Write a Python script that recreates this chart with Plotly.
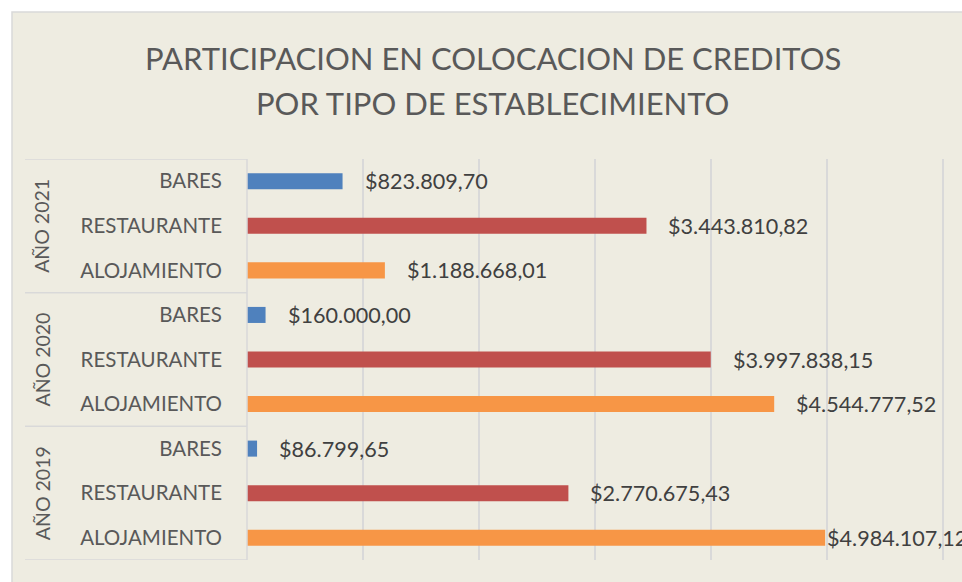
import plotly.graph_objects as go

# ---- data ----
anios = ["AÑO 2019", "AÑO 2020", "AÑO 2021"]
tipos = ["ALOJAMIENTO", "RESTAURANTE", "BARES"]
valores_2019 = [4984107.12, 2770675.43, 86799.65]
valores_2020 = [4544777.52, 3997838.15, 160000.00]
valores_2021 = [1188668.01, 3443810.82, 823809.70]
colores = ["#F79646", "#C0504D", "#4F81BD"]
titulo_1 = "PARTICIPACION EN COLOCACION DE CREDITOS"
titulo_2 = "POR TIPO DE ESTABLECIMIENTO"

valores = [valores_2019, valores_2020, valores_2021]

W, H = 962, 582
L, R, T = 247, 0, 159
B = H - 560
pw, ph = W - L - R, H - T - B
def px_x(p):
    return (p - L) / pw
def px_y(p):
    return (H - B - p) / ph

FONT = "Lato"
BG = "#EEECE1"
GRID = "#D9D9D9"

def fmt(v):
    s = f"{v:,.2f}"
    return "$" + s.replace(",", "X").replace(".", ",").replace("X", ".")

XMAX = pw / 116.0 * 1e6

fig = go.Figure()
annotations = []
tickvals, ticktext = [], []
for ti, tipo in enumerate(tipos):
    ys, xs = [], []
    for gi, anio in enumerate(anios):
        ys.append(gi * 3 + ti)
        xs.append(valores[gi][ti])
    fig.add_trace(go.Bar(
        x=xs, y=ys, orientation="h", width=0.36,
        marker=dict(color=colores[ti], line=dict(width=0)),
        showlegend=False, hoverinfo="skip"))
    for x, y in zip(xs, ys):
        shift = 20 if x < 4.8e6 else 0
        annotations.append(dict(
            x=x, y=y, xref="x", yref="y", text=fmt(x), showarrow=False,
            xanchor="left", yanchor="middle", xshift=shift,
            font=dict(family=FONT, size=21.6, color="#404040")))

for gi, anio in enumerate(anios):
    for ti, tipo in enumerate(tipos):
        tickvals.append(gi * 3 + ti)
        ticktext.append(tipo)
    annotations.append(dict(
        x=px_x(42), y=gi * 3 + 1, xref="paper", yref="y", text=anio,
        showarrow=False, textangle=-90, xanchor="center", yanchor="middle",
        font=dict(family=FONT, size=19.5, color="#595959")))

annotations.append(dict(x=px_x(493), y=px_y(58), xref="paper", yref="paper",
                        text=titulo_1, showarrow=False, xanchor="center", yanchor="middle",
                        font=dict(family=FONT, size=31, color="#595959")))
annotations.append(dict(x=px_x(492), y=px_y(103), xref="paper", yref="paper",
                        text=titulo_2, showarrow=False, xanchor="center", yanchor="middle",
                        font=dict(family=FONT, size=31, color="#595959")))

shapes = [
    dict(type="rect", xref="paper", yref="paper", x0=px_x(12), x1=1.05,
         y0=-0.2, y1=px_y(12), fillcolor=BG, line=dict(color=GRID, width=1.5),
         layer="below"),
]
for k in range(len(anios) + 1):
    yb = k * 3 - 0.5
    shapes.append(dict(type="line", xref="paper", yref="y", x0=px_x(25), x1=0,
                       y0=yb, y1=yb, line=dict(color=GRID, width=1.5)))
shapes.append(dict(type="line", xref="paper", yref="y", x0=0, x1=0,
                   y0=-0.5, y1=8.5, line=dict(color=GRID, width=1.5)))

fig.update_layout(
    width=W, height=H,
    margin=dict(l=L, r=R, t=T, b=B),
    paper_bgcolor="white", plot_bgcolor="rgba(0,0,0,0)",
    barmode="overlay",
    annotations=annotations, shapes=shapes,
    xaxis=dict(range=[0, XMAX], dtick=1e6, showgrid=True, gridcolor=GRID,
               gridwidth=1.5, showticklabels=False, zeroline=False,
               showline=False, ticks=""),
    yaxis=dict(range=[-0.5, 8.5], tickvals=tickvals, ticktext=ticktext,
               showgrid=False, zeroline=False, showline=False, ticks="",
               ticklabelstandoff=24,
               tickfont=dict(family=FONT, size=20.5, color="#595959")),
)

fig.write_html(
    "out.html",
    config={"displayModeBar": False},
    post_script="document.body.style.margin='0';document.body.style.overflow='hidden';",
)
